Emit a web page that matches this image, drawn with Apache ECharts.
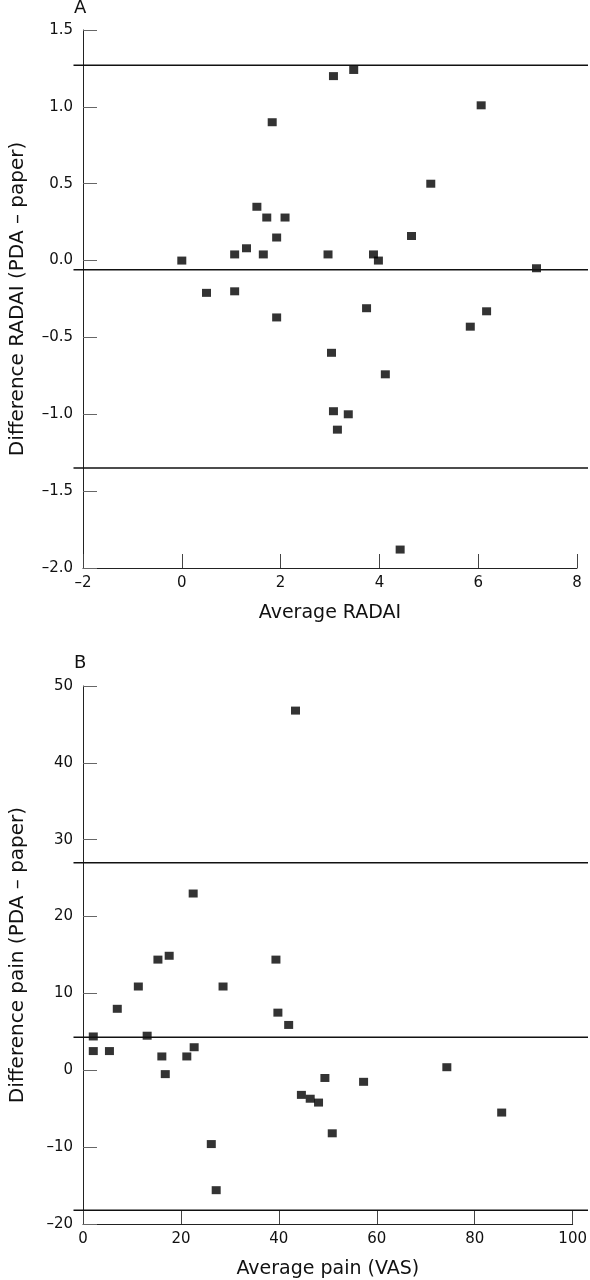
<!DOCTYPE html>
<html>
<head>
<meta charset="utf-8">
<script src="https://cdn.jsdelivr.net/npm/echarts@6/dist/echarts.min.js"></script>
<style>
html,body{margin:0;padding:0;background:#fff;}
#chart{width:590px;height:1280px;}
</style>
</head>
<body>
<div id="chart"></div>
<script>
// Panel A: RADAI
const radaiAvg = [0.0, 0.5, 1.07, 1.07, 1.31, 1.52, 1.65, 1.72, 1.83, 1.92, 2.09, 1.92, 2.96, 3.07, 3.48, 3.74, 3.88, 3.98, 4.65, 5.04, 6.06, 6.17, 7.18, 5.84, 3.03, 4.12, 3.07, 3.37, 3.15, 4.42];
const radaiDiff = [0.0, -0.21, -0.2, 0.04, 0.08, 0.35, 0.04, 0.28, 0.9, 0.15, 0.28, -0.37, 0.04, 1.2, 1.24, -0.31, 0.04, 0.0, 0.16, 0.5, 1.01, -0.33, -0.05, -0.43, -0.6, -0.74, -0.98, -1.0, -1.1, -1.88];
const radaiLimits = [1.27, -0.06, -1.35];
const radaiYTicks = { min: -2, max: 1.5, interval: 0.5 };
const radaiXTicks = { min: -2, max: 8, interval: 2 };

// Panel B: pain VAS
const painAvg = [43.4, 22.5, 2.1, 2.1, 5.4, 7.0, 11.3, 13.1, 15.3, 17.6, 16.1, 16.8, 21.2, 22.7, 26.2, 27.2, 28.6, 39.4, 39.8, 42.0, 44.6, 46.4, 48.1, 49.4, 50.9, 57.3, 74.3, 85.5];
const painDiff = [46.8, 23.0, 4.4, 2.5, 2.5, 8.0, 10.9, 4.5, 14.4, 14.9, 1.8, -0.5, 1.8, 3.0, -9.6, -15.6, 10.9, 14.4, 7.5, 5.9, -3.2, -3.7, -4.2, -1.0, -8.2, -1.5, 0.4, -5.5];
const painLimits = [27.0, 4.3, -18.2];
const painYTicks = { min: -20, max: 50, interval: 10 };
const painXTicks = { min: 0, max: 100, interval: 20 };

const FONT = 'DejaVu Sans';
const fmt = (d) => (v) => {
  const s = d ? Math.abs(v).toFixed(d) : String(Math.abs(v));
  return (v < 0 ? '\u2013' : '') + s;
};

function pts(xs, ys) { return xs.map((x, i) => [x, ys[i]]); }

function mainX(t, name, gridIndex) {
  return {
    type: 'value', gridIndex, min: t.min, max: t.max, interval: t.interval,
    name, nameLocation: 'middle', nameGap: 36,
    nameTextStyle: { fontFamily: FONT, fontSize: 19, color: '#111' },
    axisLine: { show: true, onZero: false, lineStyle: { color: '#222', width: 1 } },
    axisTick: { show: true, inside: true, length: 14, lineStyle: { color: '#444', width: 1 } },
    axisLabel: { fontFamily: FONT, fontSize: 15, color: '#111', margin: 8, formatter: fmt(0) },
    splitLine: { show: false }
  };
}
function mainY(t, name, gridIndex, dec) {
  return {
    type: 'value', gridIndex, min: t.min, max: t.max, interval: t.interval,
    name, nameLocation: 'middle', nameGap: 55, nameRotate: 90,
    nameTextStyle: { fontFamily: FONT, fontSize: 20, color: '#111' },
    axisLine: { show: true, onZero: false, lineStyle: { color: '#222', width: 1 } },
    axisTick: { show: true, inside: true, length: 14, lineStyle: { color: '#666', width: 1 } },
    axisLabel: { fontFamily: FONT, fontSize: 15, color: '#111', margin: 10, formatter: fmt(dec) },
    splitLine: { show: false }
  };
}
function hiddenX(gridIndex) {
  return { type: 'value', gridIndex, min: 0, max: 1, show: false };
}
function hiddenY(t, gridIndex) {
  return { type: 'value', gridIndex, min: t.min, max: t.max, show: false };
}
function limitSeries(vals, xi, yi) {
  return vals.map(v => ({
    type: 'line', xAxisIndex: xi, yAxisIndex: yi, data: [[0, v], [1, v]],
    symbol: 'none', silent: true, animation: false,
    lineStyle: { color: '#111', width: 1.5 }
  }));
}

const gridA = { left: 73.5, right: 13, top: 30, bottom: 712, containLabel: false };
const gridAL = { left: 73.5, right: 2, top: 30, bottom: 712, containLabel: false };
const gridB = { left: 73.5, right: 13, top: 686, bottom: 56, containLabel: false };
const gridBL = { left: 73.5, right: 2, top: 686, bottom: 56, containLabel: false };

const option = {
  backgroundColor: '#fff',
  animation: false,
  grid: [gridAL, gridA, gridBL, gridB],
  xAxis: [
    hiddenX(0),
    mainX(radaiXTicks, 'Average RADAI', 1),
    hiddenX(2),
    mainX(painXTicks, 'Average pain (VAS)', 3)
  ],
  yAxis: [
    hiddenY(radaiYTicks, 0),
    mainY(radaiYTicks, 'Difference RADAI (PDA \u2013 paper)', 1, 1),
    hiddenY(painYTicks, 2),
    mainY(painYTicks, 'Difference pain (PDA \u2013 paper)', 3, 0)
  ],
  graphic: [
    { type: 'text', left: 74, top: -1, style: { text: 'A', fontFamily: FONT, fontSize: 18, fill: '#111' } },
    { type: 'text', left: 74, top: 654, style: { text: 'B', fontFamily: FONT, fontSize: 18, fill: '#111' } }
  ],
  series: [
    ...limitSeries(radaiLimits, 0, 0),
    ...limitSeries(painLimits, 2, 2),
    {
      type: 'scatter', xAxisIndex: 1, yAxisIndex: 1, data: pts(radaiAvg, radaiDiff),
      symbol: 'rect', symbolSize: [9, 8], itemStyle: { color: '#000' }
    },
    {
      type: 'scatter', xAxisIndex: 3, yAxisIndex: 3, data: pts(painAvg, painDiff),
      symbol: 'rect', symbolSize: [9, 8], itemStyle: { color: '#000' }
    }
  ]
};

const chart = echarts.init(document.getElementById('chart'), null, { renderer: 'canvas' });
chart.setOption(option);
</script>
</body>
</html>
